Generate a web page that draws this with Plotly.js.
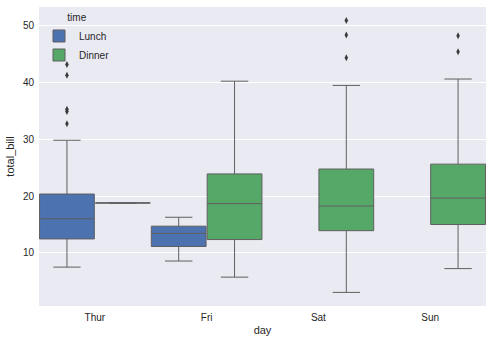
<!DOCTYPE html>
<html><head><meta charset="utf-8">
<script src="https://cdn.plot.ly/plotly-3.0.1.min.js"></script>
<style>html,body{margin:0;padding:0;background:#fff}</style>
</head><body><div id="chart" style="width:493px;height:343px"></div>
<script>
const days = ["Thur", "Fri", "Sat", "Sun"];
const lunchDays = ["Thur", "Fri"];
const lunchQ1 = [12.46, 11.13];
const lunchMedian = [16.0, 13.42];
const lunchQ3 = [20.35, 14.70];
const lunchLow = [7.51, 8.58];
const lunchHigh = [29.80, 16.27];
const dinnerDays = ["Thur", "Fri", "Sat", "Sun"];
const dinnerQ1 = [18.78, 12.35, 13.91, 14.99];
const dinnerMedian = [18.78, 18.67, 18.24, 19.63];
const dinnerQ3 = [18.78, 23.88, 24.74, 25.60];
const dinnerLow = [18.78, 5.75, 3.07, 7.25];
const dinnerHigh = [18.78, 40.17, 39.42, 40.55];
const lunchOutDays = ["Thur", "Thur", "Thur", "Thur", "Thur"];
const lunchOutVals = [32.68, 34.83, 35.26, 41.19, 43.11];
const dinnerOutDays = ["Sat", "Sat", "Sat", "Sun", "Sun"];
const dinnerOutVals = [44.30, 48.27, 50.81, 45.35, 48.17];
const yTicks = [10, 20, 30, 40, 50];

const lineCol = "#5f5f5f";
const traces = [
  {type: "box", name: "Lunch", x: lunchDays, q1: lunchQ1, median: lunchMedian, q3: lunchQ3,
   lowerfence: lunchLow, upperfence: lunchHigh, boxpoints: false,
   fillcolor: "#4C72B0", line: {color: lineCol, width: 1}, whiskerwidth: 0.5, offsetgroup: "L"},
  {type: "box", name: "Dinner", x: dinnerDays, q1: dinnerQ1, median: dinnerMedian, q3: dinnerQ3,
   lowerfence: dinnerLow, upperfence: dinnerHigh, boxpoints: false,
   fillcolor: "#55A868", line: {color: lineCol, width: 1}, whiskerwidth: 0.5, offsetgroup: "D"},
  {type: "scatter", mode: "markers", x: lunchOutDays, y: lunchOutVals, showlegend: false,
   offsetgroup: "L", marker: {symbol: "diamond-tall", size: 5, color: "#3b3b3b"}},
  {type: "scatter", mode: "markers", x: dinnerOutDays, y: dinnerOutVals, showlegend: false,
   offsetgroup: "D", marker: {symbol: "diamond-tall", size: 5, color: "#3b3b3b"}}
];
const layout = {
  width: 493, height: 343,
  margin: {l: 39, r: 7, t: 7, b: 37},
  paper_bgcolor: "#ffffff", plot_bgcolor: "#EAEAF2",
  font: {family: "Liberation Sans, Arial, sans-serif", size: 10, color: "#262626"},
  boxmode: "group", boxgap: 0, boxgroupgap: 0.02,
  scattermode: "group", scattergap: 0,
  xaxis: {type: "category", categoryorder: "array", categoryarray: days, range: [-0.5, 3.5],
    showgrid: false, zeroline: false, ticks: "", ticklen: 0, ticklabelstandoff: 4,
    title: {text: "day", font: {size: 11}, standoff: 4}},
  yaxis: {range: [0.68, 53.2], tickvals: yTicks, ticktext: yTicks.map(String),
    gridcolor: "#ffffff", gridwidth: 1, zeroline: false, ticks: "", ticklen: 0, ticklabelstandoff: 4,
    title: {text: "total_bill", font: {size: 11}, standoff: 6}},
  legend: {x: 0.0, y: 0.995, xanchor: "left", yanchor: "top", bgcolor: "rgba(0,0,0,0)",
    title: {text: "time", side: "top center", font: {size: 10}}, font: {size: 10},
    tracegroupgap: 0, itemwidth: 30},
  showlegend: true
};
Plotly.newPlot("chart", traces, layout, {displayModeBar: false, staticPlot: true});
</script></body></html>
